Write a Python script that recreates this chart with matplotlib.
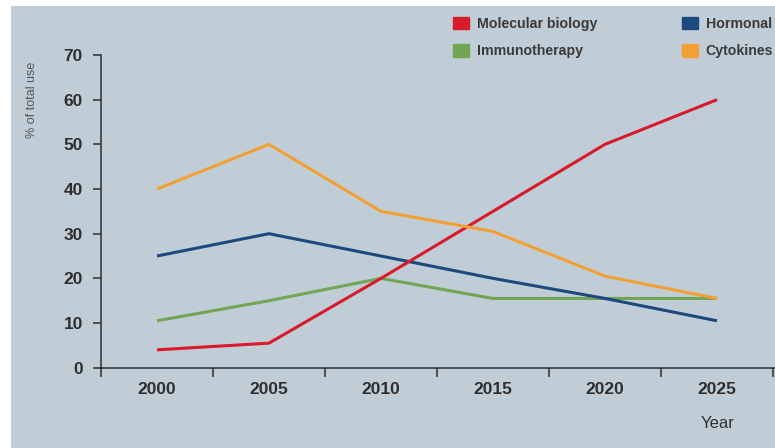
import matplotlib
matplotlib.use("Agg")
import matplotlib.pyplot as plt
from matplotlib.patches import Rectangle, Patch

# share of total use by treatment type
years = [2000, 2005, 2010, 2015, 2020, 2025]
molecular = [4, 5.5, 20, 35, 50, 60]
hormonal = [25, 30, 25, 20, 15.5, 10.5]
immuno = [10.5, 15, 20, 15.5, 15.5, 15.5]
cytokines = [40, 50, 35, 30.5, 20.5, 15.5]

yticks = [0, 10, 20, 30, 40, 50, 60, 70]

bg = '#c1cdd6'
ink = '#2e2e2e'
plt.rcParams['font.family'] = ['Liberation Sans', 'DejaVu Sans']

fig = plt.figure(figsize=(7.75, 4.48), dpi=100, facecolor='white')
fig.patches.append(Rectangle((11/775, 0), 1, 1 - 6/448, transform=fig.transFigure,
                             facecolor=bg, edgecolor='none', zorder=-10))

ax = fig.add_axes([101/775, (448-367.7)/448, 674/775, (367.7-55)/448])
ax.set_facecolor('none')

lw = 2.2
ax.plot(years, immuno, color='#72a653', lw=lw, solid_capstyle='butt')
ax.plot(years, hormonal, color='#1d4a7e', lw=lw, solid_capstyle='butt')
ax.plot(years, molecular, color='#d71a2c', lw=lw, solid_capstyle='butt')
ax.plot(years, cytokines, color='#f2a034', lw=lw, solid_capstyle='butt')

ax.set_xlim(1997.5, 1997.5 + 674/22.4)
ax.set_ylim(0, 70)

for s in ['top', 'right']:
    ax.spines[s].set_visible(False)
for s in ['left', 'bottom']:
    ax.spines[s].set_color(ink)
    ax.spines[s].set_linewidth(1.1)

ax.set_yticks(yticks)
ax.set_yticklabels([str(v) for v in yticks])
ax.set_xticks(years)
ax.set_xticklabels([str(v) for v in years])
ax.set_xticks([y - 2.5 for y in years] + [2027.5], minor=True)

ax.tick_params(axis='y', direction='out', length=6, width=1.1, color=ink, pad=7,
               labelsize=12.5, labelcolor=ink)
ax.tick_params(axis='x', which='major', length=0, pad=10, labelsize=12.5, labelcolor=ink)
ax.tick_params(axis='x', which='minor', direction='out', length=6.5, width=1.1, color=ink)
for lab in ax.get_xticklabels() + ax.get_yticklabels():
    lab.set_fontweight('bold')

fig.text(32/775, 1 - 100/448, '% of total use', rotation=90, ha='center', va='center',
         fontsize=9, color='#555555')
fig.text(718/775, 1 - 423/448, 'Year', ha='center', va='center', fontsize=12, color=ink)

handles = [Patch(color='#d71a2c'), Patch(color='#72a653'),
           Patch(color='#1d4a7e'), Patch(color='#f2a034')]
labels = ['Molecular biology', 'Immunotherapy', 'Hormonal', 'Cytokines']
leg = fig.legend(handles, labels, ncol=2, loc='upper left', bbox_to_anchor=(453/775, 1 - 17/448),
                 frameon=False, fontsize=10.2, handlelength=1.12, handleheight=0.95,
                 handletextpad=0.55, columnspacing=6.0, labelspacing=0.95, borderpad=0,
                 borderaxespad=0, labelcolor='#3a3a3a')
for t in leg.get_texts():
    t.set_fontweight('bold')

fig.savefig('out.png', dpi=100, facecolor=fig.get_facecolor())
